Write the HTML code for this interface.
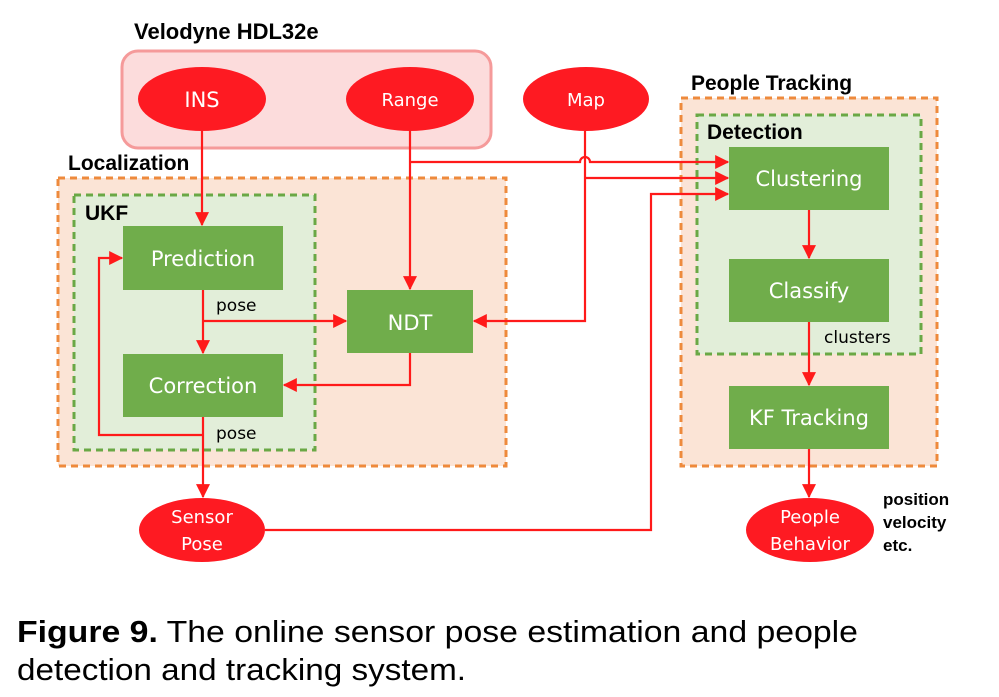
<!DOCTYPE html>
<html><head><meta charset="utf-8"><style>
html,body{margin:0;padding:0;background:#fff;}
svg{display:block;}
.b{font-family:"Liberation Sans",sans-serif;font-weight:bold;fill:#000;}
.w{font-family:"DejaVu Sans","Liberation Sans",sans-serif;fill:#fff;}
.k{font-family:"DejaVu Sans","Liberation Sans",sans-serif;fill:#000;}
</style></head><body>
<svg width="999" height="697" viewBox="0 0 999 697" xmlns="http://www.w3.org/2000/svg">
<defs>
<marker id="a" markerWidth="10" markerHeight="10" refX="9" refY="5" orient="auto" markerUnits="userSpaceOnUse" viewBox="0 0 10 10">
<path d="M0,0 L10,5 L0,10 z" fill="#ff1a1a"/></marker>
<marker id="A" viewBox="0 0 12 12" markerWidth="14" markerHeight="14" refX="11" refY="6" orient="auto" markerUnits="userSpaceOnUse">
<path d="M0,0 L12,6 L0,12 z" fill="#ff1a1a"/></marker>
</defs>

<!-- Velodyne box -->
<rect x="122" y="51" width="369" height="97" rx="16" fill="#fcdcdc" stroke="#f59a9a" stroke-width="3"/>
<text x="134" y="39" class="b" font-size="22">Velodyne HDL32e</text>

<!-- Localization -->
<rect x="58" y="178" width="448" height="288" fill="#fbe4d6" stroke="#ee8a3c" stroke-width="3" stroke-dasharray="7,5"/>
<text x="68" y="170" class="b" font-size="21">Localization</text>
<rect x="74" y="195" width="241" height="255" fill="#e2eed9" stroke="#6aa845" stroke-width="3" stroke-dasharray="7,5"/>
<text x="85" y="220" class="b" font-size="21">UKF</text>

<!-- People Tracking -->
<rect x="681" y="98" width="256" height="368" fill="#fbe4d6" stroke="#ee8a3c" stroke-width="3" stroke-dasharray="7,5"/>
<text x="691" y="90" class="b" font-size="21">People Tracking</text>
<rect x="697" y="115" width="224" height="239" fill="#e2eed9" stroke="#6aa845" stroke-width="3" stroke-dasharray="7,5"/>
<text x="707" y="139" class="b" font-size="21">Detection</text>

<!-- Ellipses -->
<g fill="#fe1a22">
<ellipse cx="202" cy="99" rx="64" ry="32"/>
<ellipse cx="410" cy="99" rx="64" ry="32"/>
<ellipse cx="586" cy="99" rx="63" ry="32"/>
<ellipse cx="202" cy="530" rx="63" ry="32"/>
<ellipse cx="810" cy="530" rx="64" ry="32"/>
</g>
<text x="202" y="107" class="w" font-size="21" text-anchor="middle">INS</text>
<text x="410" y="106" class="w" font-size="18" text-anchor="middle">Range</text>
<text x="586" y="106" class="w" font-size="18" text-anchor="middle">Map</text>
<text x="202" y="523" class="w" font-size="18" text-anchor="middle">Sensor</text>
<text x="202" y="550" class="w" font-size="18" text-anchor="middle">Pose</text>
<text x="810" y="523" class="w" font-size="18" text-anchor="middle">People</text>
<text x="810" y="550" class="w" font-size="18" text-anchor="middle">Behavior</text>

<!-- Green boxes -->
<g fill="#70ad4b">
<rect x="123" y="226" width="160" height="64"/>
<rect x="347" y="290" width="126" height="63"/>
<rect x="123" y="354" width="160" height="63"/>
<rect x="729" y="147" width="160" height="63"/>
<rect x="729" y="259" width="160" height="63"/>
<rect x="729" y="386" width="160" height="63"/>
</g>
<text x="203" y="266" class="w" font-size="21" text-anchor="middle">Prediction</text>
<text x="410" y="330" class="w" font-size="21" text-anchor="middle">NDT</text>
<text x="203" y="393" class="w" font-size="21" text-anchor="middle">Correction</text>
<text x="809" y="186" class="w" font-size="21" text-anchor="middle">Clustering</text>
<text x="809" y="298" class="w" font-size="21" text-anchor="middle">Classify</text>
<text x="809" y="425" class="w" font-size="21" text-anchor="middle">KF Tracking</text>

<!-- labels -->
<text x="216" y="311" class="k" font-size="17">pose</text>
<text x="216" y="439" class="k" font-size="17">pose</text>
<text x="824" y="343" class="k" font-size="17">clusters</text>
<text x="883" y="505" class="b" font-size="17">position</text>
<text x="883" y="528" class="b" font-size="17">velocity</text>
<text x="883" y="551" class="b" font-size="17">etc.</text>

<!-- connectors -->
<g stroke="#ff1a1a" stroke-width="2.2" fill="none">
<path d="M202,131 V225" marker-end="url(#A)"/>
<path d="M410,131 V289" marker-end="url(#A)"/>
<path d="M410,162 H580 a5,5 0 0 1 10,0 H728" marker-end="url(#A)"/>
<path d="M585,131 V321 H474" marker-end="url(#A)"/>
<path d="M585,178 H728" marker-end="url(#A)"/>
<path d="M265,530 H651 V194 H728" marker-end="url(#A)"/>
<path d="M203,290 V353" marker-end="url(#A)"/>
<path d="M203,321 H346" marker-end="url(#A)"/>
<path d="M410,353 V385 H284" marker-end="url(#A)"/>
<path d="M203,417 V497" marker-end="url(#A)"/>
<path d="M203,435 H99 V258 H122" marker-end="url(#A)"/>
<path d="M809,210 V258" marker-end="url(#A)"/>
<path d="M809,322 V385" marker-end="url(#A)"/>
<path d="M809,449 V497" marker-end="url(#A)"/>
</g>

<!-- caption -->
<text x="17" y="642" font-family="Liberation Sans,sans-serif" font-size="31" textLength="841" lengthAdjust="spacingAndGlyphs"><tspan font-weight="bold">Figure 9.</tspan>  The online sensor pose estimation and people</text>
<text x="17" y="680" font-family="Liberation Sans,sans-serif" font-size="31" textLength="449" lengthAdjust="spacingAndGlyphs">detection and tracking system.</text>
</svg>
</body></html>
